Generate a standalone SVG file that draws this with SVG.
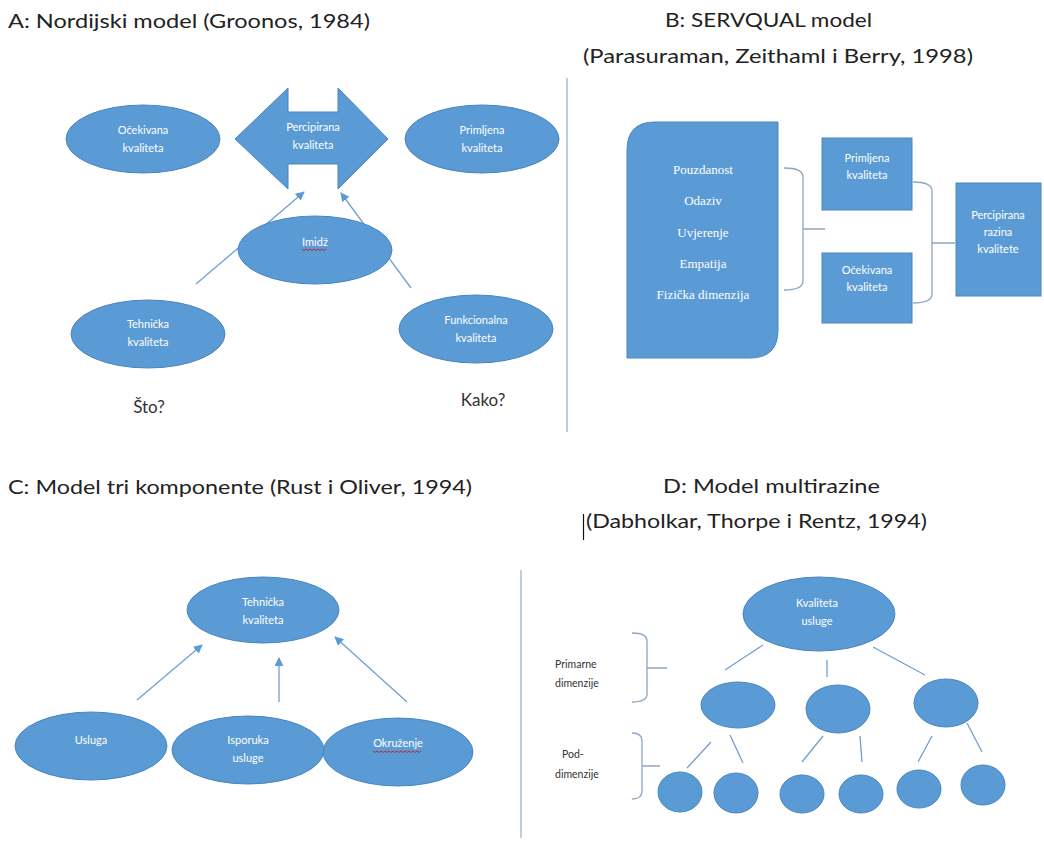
<svg xmlns="http://www.w3.org/2000/svg" width="1044" height="841" viewBox="0 0 1044 841">
<defs>
<style>
.title{font-family:Lato,"Open Sans","Liberation Sans",sans-serif;font-size:20px;fill:#222}
.q{font-family:Lato,"Open Sans","Liberation Sans",sans-serif;font-size:17px;fill:#333}
.lbl{font-family:Lato,"Open Sans","Liberation Sans",sans-serif;font-size:11px;fill:#ffffff;text-anchor:middle}
.serif{font-family:"Liberation Serif","DejaVu Serif",serif;font-size:13px;fill:#ffffff;text-anchor:middle}
.side{font-family:Lato,"Open Sans","Liberation Sans",sans-serif;font-size:10.5px;fill:#333}
.shape{fill:#5B9BD5;stroke:#4A85BF;stroke-width:1}
.conn{stroke:#6F9FD3;stroke-width:1.3;fill:none}
.brk{stroke:#8DA6C2;stroke-width:1.3;fill:none}
.div{stroke:#A8BCD4;stroke-width:1.5}
.squig{stroke:#C0282D;stroke-width:1;fill:none}
</style>
<marker id="ah" viewBox="0 0 10 10" refX="9" refY="5" markerWidth="9" markerHeight="9" markerUnits="userSpaceOnUse" orient="auto">
<path d="M0,0 L10,5 L0,10 Z" fill="#5B9BD5"/>
</marker>
</defs>
<rect width="1044" height="841" fill="#ffffff"/>

<!-- titles -->
<g id="titles">
<text class="title" x="8" y="28" textLength="362" lengthAdjust="spacingAndGlyphs">A: Nordijski model (Groonos, 1984)</text>
<text class="title" x="665" y="27" textLength="207" lengthAdjust="spacingAndGlyphs">B: SERVQUAL model</text>
<text class="title" x="583" y="63" textLength="390" lengthAdjust="spacingAndGlyphs">(Parasuraman, Zeithaml i Berry, 1998)</text>
<text class="title" x="8" y="494" textLength="464" lengthAdjust="spacingAndGlyphs">C: Model tri komponente (Rust i Oliver, 1994)</text>
<text class="title" x="663" y="493" textLength="217" lengthAdjust="spacingAndGlyphs">D: Model multirazine</text>
<text class="title" x="586" y="528" textLength="341" lengthAdjust="spacingAndGlyphs">(Dabholkar, Thorpe i Rentz, 1994)</text>
<line x1="583.5" y1="514" x2="583.5" y2="540" stroke="#111" stroke-width="1.2"/>
</g>

<!-- dividers -->
<g id="dividers">
<line class="div" x1="567" y1="78" x2="567" y2="432"/>
<line class="div" x1="521" y1="570" x2="521" y2="838"/>
</g>

<!-- connectors -->
<g id="connectors">
<line class="conn" x1="196" y1="284" x2="304" y2="192" marker-end="url(#ah)"/>
<line class="conn" x1="411" y1="288" x2="341" y2="193" marker-end="url(#ah)"/>
<line class="conn" x1="137" y1="700" x2="202" y2="645" marker-end="url(#ah)"/>
<line class="conn" x1="279" y1="702" x2="279" y2="658" marker-end="url(#ah)"/>
<line class="conn" x1="407" y1="702" x2="335" y2="637" marker-end="url(#ah)"/>
<path class="brk" d="M784,168 Q803,168 803,177 L803,281 Q803,290 784,290 M803,229 L825,229"/>
<path class="brk" d="M913,182 Q932,182 932,191 L932,294 Q932,303 913,303 M932,243 L955,243"/>
<path class="brk" d="M632,633 Q647,633 647,641 L647,694 Q647,702 632,702 M647,668 L667,668"/>
<path class="brk" d="M632,733 Q642,733 642,741 L642,791 Q642,799 632,799 M642,766 L660,766"/>
<g class="conn">
<line x1="763" y1="645" x2="725" y2="670"/>
<line x1="827" y1="660" x2="827" y2="677"/>
<line x1="873" y1="647" x2="925" y2="675"/>
<line x1="711" y1="742" x2="687" y2="768"/>
<line x1="730" y1="735" x2="743" y2="763"/>
<line x1="823" y1="736" x2="802" y2="762"/>
<line x1="860" y1="736" x2="862" y2="762"/>
<line x1="932" y1="736" x2="918" y2="762"/>
<line x1="967" y1="723" x2="982" y2="752"/>
</g>
</g>

<!-- A nodes -->
<g id="a-ocekivana">
<ellipse class="shape" cx="143" cy="139" rx="77" ry="34"/>
<text class="lbl" x="143" y="134">Očekivana</text>
<text class="lbl" x="143" y="152">kvaliteta</text>
</g>
<g id="a-percipirana">
<path class="shape" d="M235,139 L288,88 L288,112 L338,112 L338,88 L388,139 L338,189 L338,164 L288,164 L288,189 Z"/>
<text class="lbl" x="313" y="131">Percipirana</text>
<text class="lbl" x="313" y="149">kvaliteta</text>
</g>
<g id="a-primljena">
<ellipse class="shape" cx="482" cy="139" rx="77" ry="34"/>
<text class="lbl" x="482" y="134">Primljena</text>
<text class="lbl" x="482" y="152">kvaliteta</text>
</g>
<g id="a-imidz">
<ellipse class="shape" cx="315" cy="250" rx="77" ry="34"/>
<text class="lbl" x="315" y="246">Imidž</text>
<path class="squig" d="M302,249 l2,1.5 l2,-1.5 l2,1.5 l2,-1.5 l2,1.5 l2,-1.5 l2,1.5 l2,-1.5 l2,1.5 l2,-1.5 l2,1.5 l2,-1.5"/>
</g>
<g id="a-tehnicka">
<ellipse class="shape" cx="148" cy="334" rx="77" ry="34"/>
<text class="lbl" x="148" y="328">Tehnička</text>
<text class="lbl" x="148" y="346">kvaliteta</text>
</g>
<g id="a-funkcionalna">
<ellipse class="shape" cx="476" cy="329" rx="77" ry="34"/>
<text class="lbl" x="476" y="324">Funkcionalna</text>
<text class="lbl" x="476" y="342">kvaliteta</text>
</g>
<g id="a-questions">
<text class="q" x="149" y="413" text-anchor="middle">Što?</text>
<text class="q" x="483" y="406" text-anchor="middle">Kako?</text>
</g>

<!-- B nodes -->
<g id="b-dimenzije">
<path class="shape" d="M655,122 L778,122 L778,330 Q778,358 750,358 L627,358 L627,150 Q627,122 655,122 Z"/>
<text class="serif" x="703" y="174">Pouzdanost</text>
<text class="serif" x="703" y="205">Odaziv</text>
<text class="serif" x="703" y="237">Uvjerenje</text>
<text class="serif" x="703" y="268">Empatija</text>
<text class="serif" x="703" y="299">Fizička dimenzija</text>
</g>
<g id="b-primljena">
<rect class="shape" x="822" y="138" width="90" height="72"/>
<text class="lbl" x="867" y="162">Primljena</text>
<text class="lbl" x="867" y="179">kvaliteta</text>
</g>
<g id="b-ocekivana">
<rect class="shape" x="822" y="253" width="90" height="70"/>
<text class="lbl" x="867" y="274">Očekivana</text>
<text class="lbl" x="867" y="291">kvaliteta</text>
</g>
<g id="b-percipirana">
<rect class="shape" x="956" y="183" width="85" height="113"/>
<text class="lbl" x="998" y="219">Percipirana</text>
<text class="lbl" x="998" y="236">razina</text>
<text class="lbl" x="998" y="253">kvalitete</text>
</g>

<!-- C nodes -->
<g id="c-tehnicka">
<ellipse class="shape" cx="263" cy="610" rx="76" ry="33"/>
<text class="lbl" x="263" y="606">Tehnička</text>
<text class="lbl" x="263" y="624">kvaliteta</text>
</g>
<g id="c-usluga">
<ellipse class="shape" cx="91" cy="746" rx="76" ry="34"/>
<text class="lbl" x="91" y="744">Usluga</text>
</g>
<g id="c-isporuka">
<ellipse class="shape" cx="248" cy="750" rx="76" ry="34"/>
<text class="lbl" x="248" y="744">Isporuka</text>
<text class="lbl" x="248" y="762">usluge</text>
</g>
<g id="c-okruzenje">
<ellipse class="shape" cx="398" cy="752" rx="75" ry="34"/>
<text class="lbl" x="398" y="747">Okruženje</text>
<path class="squig" d="M373,751 l2,1.5 l2,-1.5 l2,1.5 l2,-1.5 l2,1.5 l2,-1.5 l2,1.5 l2,-1.5 l2,1.5 l2,-1.5 l2,1.5 l2,-1.5 l2,1.5 l2,-1.5 l2,1.5 l2,-1.5 l2,1.5 l2,-1.5 l2,1.5 l2,-1.5 l2,1.5 l2,-1.5 l2,1.5 l2,-1.5"/>
</g>

<!-- D nodes -->
<g id="d-kvaliteta">
<ellipse class="shape" cx="819" cy="614" rx="76" ry="37"/>
<text class="lbl" x="817" y="607">Kvaliteta</text>
<text class="lbl" x="817" y="625">usluge</text>
</g>
<g id="d-primarne">
<ellipse class="shape" cx="738" cy="705" rx="37" ry="23"/>
<ellipse class="shape" cx="838" cy="709" rx="32" ry="24"/>
<ellipse class="shape" cx="946" cy="703" rx="32" ry="24"/>
</g>
<g id="d-pod">
<ellipse class="shape" cx="680" cy="792" rx="22" ry="20"/>
<ellipse class="shape" cx="736" cy="793" rx="22" ry="20"/>
<ellipse class="shape" cx="802" cy="794" rx="22" ry="19"/>
<ellipse class="shape" cx="861" cy="794" rx="22" ry="19"/>
<ellipse class="shape" cx="919" cy="789" rx="22" ry="19"/>
<ellipse class="shape" cx="983" cy="785" rx="22" ry="20"/>
</g>
<g id="d-labels">
<text class="side" x="555" y="668">Primarne</text>
<text class="side" x="555" y="687">dimenzije</text>
<text class="side" x="562" y="758">Pod-</text>
<text class="side" x="555" y="778">dimenzije</text>
</g>
</svg>
